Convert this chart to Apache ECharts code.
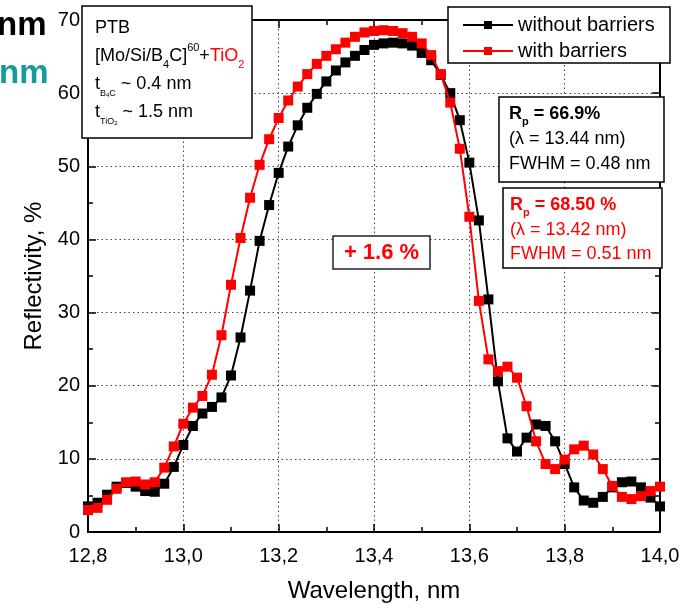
<!DOCTYPE html>
<html>
<head>
<meta charset="utf-8">
<script src="https://cdn.jsdelivr.net/npm/echarts@6/dist/echarts.min.js"></script>
<style>
  html, body { margin: 0; padding: 0; background: #fff; }
  #chart { width: 691px; height: 608px; }
</style>
</head>
<body>
<div id="chart"></div>
<script>
// wavelength grid, nm
const wavelengths = [
  12.80, 12.82, 12.84, 12.86, 12.88, 12.90, 12.92, 12.94, 12.96, 12.98,
  13.00, 13.02, 13.04, 13.06, 13.08, 13.10, 13.12, 13.14, 13.16, 13.18,
  13.20, 13.22, 13.24, 13.26, 13.28, 13.30, 13.32, 13.34, 13.36, 13.38,
  13.40, 13.42, 13.44, 13.46, 13.48, 13.50, 13.52, 13.54, 13.56, 13.58,
  13.60, 13.62, 13.64, 13.66, 13.68, 13.70, 13.72, 13.74, 13.76, 13.78,
  13.80, 13.82, 13.84, 13.86, 13.88, 13.90, 13.92, 13.94, 13.96, 13.98,
  14.00
];

// reflectivity, %
const withoutBarriers = [
  3.5, 4.0, 5.1, 6.2, 6.7, 6.2, 5.6, 5.5, 6.6, 8.9,
  11.9, 14.5, 16.2, 17.1, 18.4, 21.4, 26.6, 33.0, 39.8, 44.7,
  49.1, 52.7, 55.6, 58.0, 59.9, 61.6, 63.1, 64.2, 65.1, 65.9,
  66.6, 66.8, 66.9, 66.8, 66.5, 65.5, 64.5, 62.5, 60.0, 56.3,
  50.5, 42.6, 31.8, 20.6, 12.8, 11.0, 12.9, 14.7, 14.5, 12.4,
  9.3, 6.1, 4.3, 4.0, 4.8, 6.1, 6.8, 6.9, 6.1, 4.7,
  3.5
];

const withBarriers = [
  3.0, 3.3, 4.4, 5.9, 6.8, 6.9, 6.5, 6.8, 8.8, 11.7,
  14.8, 17.0, 18.6, 21.5, 26.9, 33.8, 40.2, 45.7, 50.2, 53.7,
  56.6, 59.0, 60.9, 62.6, 64.0, 65.1, 66.0, 66.9, 67.7, 68.3,
  68.5, 68.6, 68.5, 68.2, 67.7, 66.8, 65.2, 62.6, 58.7, 52.4,
  43.1, 31.6, 23.6, 22.0, 22.6, 21.1, 17.2, 12.4, 9.3, 8.6,
  9.9, 11.3, 11.8, 10.6, 8.6, 6.3, 4.8, 4.5, 4.9, 5.6,
  6.2
];

const seriesNames = ['without barriers', 'with barriers'];

const FONT = 'Liberation Sans, Arial, sans-serif';

const chart = echarts.init(document.getElementById('chart'));

const pairs = (ys) => wavelengths.map((x, i) => [x, ys[i]]);

const axisCommon = {
  axisLine: { show: true, onZero: false, lineStyle: { color: '#000', width: 2 } },
  axisTick: { show: true, inside: true, length: 8, lineStyle: { color: '#000', width: 1.5 } },
  minorTick: { show: true, splitNumber: 2, length: 5, lineStyle: { color: '#000', width: 1.5 } }
};

const option = {
  animation: false,
  backgroundColor: '#fff',
  grid: { left: 88, right: 31, top: 20, bottom: 74 },
  xAxis: [
    {
      type: 'value', min: 12.8, max: 14.0, interval: 0.2,
      ...axisCommon,
      axisLabel: {
        color: '#000', fontSize: 20, fontFamily: FONT, margin: 14,
        formatter: (v) => v.toFixed(1).replace('.', ',')
      },
      splitLine: { show: true, lineStyle: { color: '#444', type: [1.5, 3], width: 1 } },
      name: 'Wavelength, nm',
      nameLocation: 'middle',
      nameGap: 47,
      nameTextStyle: { color: '#000', fontSize: 24, fontFamily: FONT }
    },
    {
      type: 'value', min: 12.8, max: 14.0, interval: 0.2, position: 'top',
      ...axisCommon,
      axisLabel: { show: false },
      splitLine: { show: false }
    }
  ],
  yAxis: [
    {
      type: 'value', min: 0, max: 70, interval: 10,
      ...axisCommon,
      axisLabel: { color: '#000', fontSize: 20, fontFamily: FONT, margin: 8 },
      splitLine: { show: true, lineStyle: { color: '#444', type: [1.5, 3], width: 1 } },
      name: 'Reflectivity, %',
      nameLocation: 'middle',
      nameGap: 40,
      nameTextStyle: { color: '#000', fontSize: 24, fontFamily: FONT }
    },
    {
      type: 'value', min: 0, max: 70, interval: 10, position: 'right',
      ...axisCommon,
      axisLabel: { show: false },
      splitLine: { show: false }
    }
  ],
  legend: {
    orient: 'vertical',
    left: 457,
    top: 10,
    itemWidth: 50,
    itemHeight: 10,
    itemGap: 6,
    z: 10,
    data: seriesNames,
    textStyle: { color: '#000', fontSize: 20, fontFamily: FONT }
  },
  series: [
    {
      name: seriesNames[0],
      type: 'line',
      data: pairs(withoutBarriers),
      symbol: 'rect',
      symbolSize: 10,
      lineStyle: { color: '#000', width: 2 },
      itemStyle: { color: '#000' },
      z: 2
    },
    {
      name: seriesNames[1],
      type: 'line',
      data: pairs(withBarriers),
      symbol: 'rect',
      symbolSize: 10,
      lineStyle: { color: '#ff0000', width: 2 },
      itemStyle: { color: '#ff0000' },
      z: 3
    }
  ],
  graphic: [
    // cropped slide text on the far left
    { type: 'text', z: 20, style: { x: -3, y: 26, text: 'nm', fill: '#000', font: 'bold 33px ' + FONT, textVerticalAlign: 'middle' } },
    { type: 'text', z: 20, style: { x: -1, y: 74, text: 'nm', fill: '#169a9a', font: 'bold 33px ' + FONT, textVerticalAlign: 'middle' } },

    // sample box
    { type: 'rect', z: 8, shape: { x: 82, y: 6, width: 170, height: 132 }, style: { fill: '#fff', stroke: '#000', lineWidth: 1.5 } },
    {
      type: 'text', z: 9,
      style: {
        x: 95, y: 14,
        text: '{n|PTB}\n{n|[Mo/Si/B}{s|4}{n|C]}{p|60}{n|+}{r|TiO}{rs|2}\n{n|t}{t|B}{tt|4}{t|C}{n| ~ 0.4 nm}\n{n|t}{t|TiO}{tt|2}{n| ~ 1.5 nm}',
        rich: {
          n: { fontSize: 18, fontFamily: FONT, fill: '#000', lineHeight: 28, verticalAlign: 'middle' },
          s: { fontSize: 11, fontFamily: FONT, fill: '#000', lineHeight: 28, verticalAlign: 'bottom' },
          p: { fontSize: 11, fontFamily: FONT, fill: '#000', lineHeight: 28, verticalAlign: 'top' },
          r: { fontSize: 18, fontFamily: FONT, fill: '#ff0000', lineHeight: 28, verticalAlign: 'middle' },
          rs: { fontSize: 11, fontFamily: FONT, fill: '#ff0000', lineHeight: 28, verticalAlign: 'bottom' },
          t: { fontSize: 9, fontFamily: FONT, fill: '#000', lineHeight: 28, verticalAlign: 'bottom' },
          tt: { fontSize: 6, fontFamily: FONT, fill: '#000', lineHeight: 26, verticalAlign: 'bottom' }
        }
      }
    },

    // legend frame
    { type: 'rect', z: 8, shape: { x: 448, y: 7, width: 222, height: 56 }, style: { fill: '#fff', stroke: '#000', lineWidth: 1.5 } },

    // peak data, without barriers
    { type: 'rect', z: 8, shape: { x: 499, y: 97, width: 165, height: 85 }, style: { fill: '#fff', stroke: '#000', lineWidth: 1.5 } },
    {
      type: 'text', z: 9,
      style: {
        x: 509, y: 101,
        text: '{b|R}{bs|p}{b| = 66.9%}\n{n|(\u03bb = 13.44 nm)}\n{n|FWHM = 0.48 nm}',
        rich: {
          b: { fontSize: 18, fontWeight: 'bold', fontFamily: FONT, fill: '#000', lineHeight: 26, verticalAlign: 'middle' },
          bs: { fontSize: 11, fontWeight: 'bold', fontFamily: FONT, fill: '#000', lineHeight: 26, verticalAlign: 'bottom' },
          n: { fontSize: 18, fontFamily: FONT, fill: '#000', lineHeight: 25, verticalAlign: 'middle' }
        }
      }
    },

    // peak data, with barriers
    { type: 'rect', z: 8, shape: { x: 503, y: 188, width: 159, height: 80 }, style: { fill: '#fff', stroke: '#000', lineWidth: 1.5 } },
    {
      type: 'text', z: 9,
      style: {
        x: 510, y: 192,
        text: '{b|R}{bs|p}{b| = 68.50 %}\n{n|(\u03bb = 13.42 nm)}\n{n|FWHM = 0.51 nm}',
        rich: {
          b: { fontSize: 18, fontWeight: 'bold', fontFamily: FONT, fill: '#ff0000', lineHeight: 26, verticalAlign: 'middle' },
          bs: { fontSize: 11, fontWeight: 'bold', fontFamily: FONT, fill: '#ff0000', lineHeight: 26, verticalAlign: 'bottom' },
          n: { fontSize: 18, fontFamily: FONT, fill: '#ff0000', lineHeight: 24, verticalAlign: 'middle' }
        }
      }
    },

    // gain label
    { type: 'rect', z: 8, shape: { x: 333, y: 236, width: 97, height: 33 }, style: { fill: '#fff', stroke: '#222', lineWidth: 1.5 } },
    { type: 'text', z: 9, style: { x: 381.5, y: 253, text: '+ 1.6 %', fill: '#ff0000', font: 'bold 22px ' + FONT, textAlign: 'center', textVerticalAlign: 'middle' } }
  ]
};

chart.setOption(option);
</script>
</body>
</html>
